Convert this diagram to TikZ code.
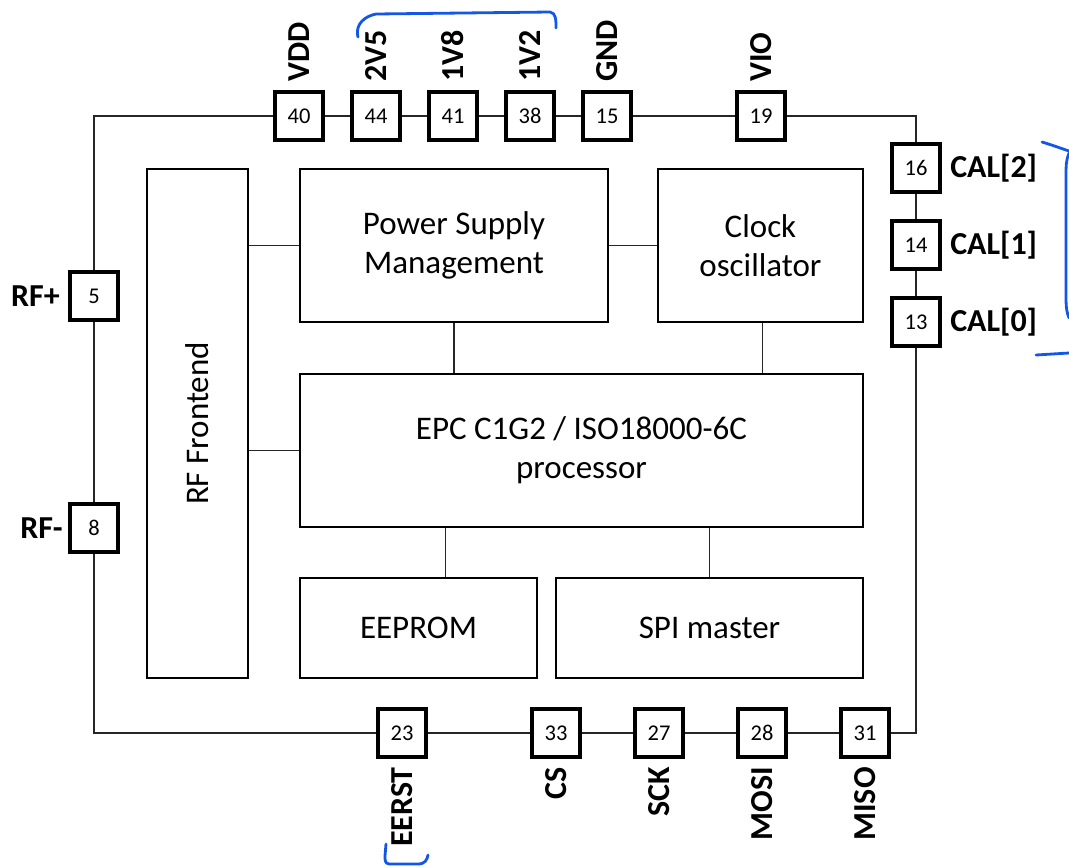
\documentclass[tikz,border=0pt]{standalone}
\usepackage{fontspec}
\setmainfont{Carlito}
\usetikzlibrary{calc}
\definecolor{penblue}{RGB}{20,86,230}
\begin{document}
\begin{tikzpicture}[x=1pt,y=-1pt,
  wire/.style={line width=1.2pt,draw=black!85},
  pin/.style={draw=black,line width=3.6pt,fill=white,minimum size=48.5pt,inner sep=0pt,font=\fontsize{22.5}{26}\selectfont},
  blk/.style={draw=black,line width=1.2pt,align=center,inner sep=0pt,font=\fontsize{33}{39}\selectfont},
  lbl/.style={inner sep=0pt,font=\fontsize{32}{36}\selectfont\bfseries},
  ink/.style={draw=penblue,line width=2.8pt,line cap=round,line join=round}]
\useasboundingbox (0,0) rectangle (1069,868);
% corner coordinates of the frame
\coordinate (cTL) at (94,116);
\coordinate (cTR) at (916,116);
\coordinate (cBR) at (916,733);
\coordinate (cBL) at (94,733);
% blocks
\node[blk,minimum width=101pt,minimum height=509pt] (rf) at (197.5,423.5) {};
\node[font=\fontsize{33}{39}\selectfont,rotate=90] (rft) at (rf.center) {RF Frontend};
\node[blk,minimum width=308pt,minimum height=153pt] (psm) at (454,245.5) {Power Supply\\Management};
\node[blk,minimum width=205pt,minimum height=153pt] (clk) at (760.5,245.5) {Clock\\oscillator};
\node[blk,minimum width=563pt,minimum height=153pt] (epc) at (581.5,450.5) {EPC C1G2 / ISO18000-6C\\processor};
\node[blk,minimum width=237pt,minimum height=100pt] (ee) at (418.5,628) {EEPROM};
\node[blk,minimum width=307pt,minimum height=100pt] (spi) at (709.5,628) {SPI master};
% internal connectors
\draw[wire] (rf.east |- psm.west) -- (psm.west);
\draw[wire] (rf.east |- epc.west) -- (epc.west);
\draw[wire] (psm.east) -- (clk.west);
\draw[wire] (psm.south) -- (psm.south |- epc.north);
\draw[wire] ($(clk.south)+(2,0)$) -- ($(clk.south |- epc.north)+(2,0)$);
\coordinate (eeN) at ($(ee.north west)!0.612!(ee.north east)$);
\draw[wire] (eeN) -- (eeN |- epc.south);
\draw[wire] (spi.north) -- (spi.north |- epc.south);
% pins
\node[pin] (p40) at (299,116) {40};
\node[pin] (p44) at (376,116) {44};
\node[pin] (p41) at (453,116) {41};
\node[pin] (p38) at (530,116) {38};
\node[pin] (p15) at (607,116) {15};
\node[pin] (p19) at (761,116) {19};
\node[pin] (p16) at (916,168) {16};
\node[pin] (p14) at (916,245) {14};
\node[pin] (p13) at (916,322) {13};
\node[pin] (p5) at (94,296) {5};
\node[pin] (p8) at (94,528) {8};
\node[pin] (p23) at (402,733) {23};
\node[pin] (p33) at (556,733) {33};
\node[pin] (p27) at (659,733) {27};
\node[pin] (p28) at (762,733) {28};
\node[pin] (p31) at (865,733) {31};
% outer frame wires
\draw[wire] (p5.north) -- (cTL) -- (p40.west);
\draw[wire] (p40.east) -- (p44.west);
\draw[wire] (p44.east) -- (p41.west);
\draw[wire] (p41.east) -- (p38.west);
\draw[wire] (p38.east) -- (p15.west);
\draw[wire] (p15.east) -- (p19.west);
\draw[wire] (p19.east) -- (cTR) -- (p16.north);
\draw[wire] (p16.south) -- (p14.north);
\draw[wire] (p14.south) -- (p13.north);
\draw[wire] (p13.south) -- (cBR) -- (p31.east);
\draw[wire] (p31.west) -- (p28.east);
\draw[wire] (p28.west) -- (p27.east);
\draw[wire] (p27.west) -- (p33.east);
\draw[wire] (p33.west) -- (p23.east);
\draw[wire] (p23.west) -- (cBL) -- (p8.south);
\draw[wire] (p8.north) -- (p5.south);
% labels
\foreach \p/\t in {p40/VDD,p44/2V5,p41/1V8,p38/1V2,p15/GND,p19/VIO}
  \node[lbl,rotate=90,anchor=west] (l\p) at ($(\p.north)+(0,-8)$) {\t};
\foreach \p/\t in {p23/EERST,p33/CS,p27/SCK,p28/MOSI,p31/MISO}
  \node[lbl,rotate=90,anchor=east] (l\p) at ($(\p.south)+(0,8)$) {\t};
\foreach \p/\t in {p16/CAL[2],p14/CAL[1],p13/CAL[0]}
  \node[lbl,anchor=west] (l\p) at ($(\p.east)+(8,0)$) {\t};
\node[lbl,anchor=east] (lp5) at ($(p5.west)+(-8,0)$) {RF+};
\node[lbl,anchor=east] (lp8) at ($(p8.west)+(-5,0)$) {RF-};
% blue hand-drawn marks
\draw[ink] (358,37) .. controls (356,30) and (358,18) .. (376,14) -- (550,12) .. controls (556,13) and (556,20) .. (556,28);
\draw[ink] (1042,142) .. controls (1052,145) and (1060,148) .. (1069,151);
\draw[ink] (1069,153) .. controls (1066,160) and (1066,166) .. (1066,178) -- (1066,298) .. controls (1066,308) and (1067,313) .. (1069,318);
\draw[ink] (1036,355) -- (1069,353);
\draw[ink] (386,844) -- (385,856) .. controls (385,864) and (386,864) .. (393,864) -- (418,864) .. controls (425,864) and (427,860) .. (428,855);
\end{tikzpicture}
\end{document}
